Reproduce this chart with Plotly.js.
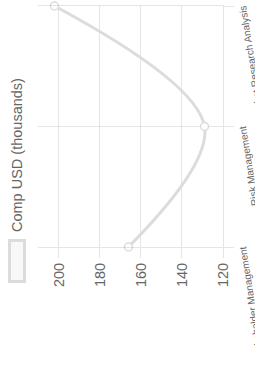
<!DOCTYPE html>
<html>
<head>
<meta charset="utf-8">
<script src="https://cdn.plot.ly/plotly-3.0.1.min.js"></script>
<style>
  html, body { margin:0; padding:0; width:255px; height:371px; overflow:hidden; background:#fff; }
  #wrap { position:absolute; left:0; top:0; width:371px; height:255px;
          transform-origin: 0 0; transform: rotate(-90deg) translateX(-371px); }
  #chart { width:371px; height:255px; }
</style>
</head>
<body>
<div id="wrap"><div id="chart"></div></div>
<script>
const categories = ['Stakeholder Management', 'Risk Management', 'Market Research Analysis'];
const compValues = [166, 129, 202];
const seriesName = 'Comp USD (thousands)';
const yTickVals = [120, 140, 160, 180, 200];

const grid = 'rgba(0,0,0,0.1)';
const stroke = 'rgba(220,220,220,1)';
const font = 'Arial, "Liberation Sans", sans-serif';

const trace = {
  x: categories,
  y: compValues,
  type: 'scatter',
  mode: 'lines+markers',
  name: seriesName,
  line: { color: stroke, width: 3, shape: 'spline', smoothing: 1 },
  marker: { size: 8, color: '#fff', line: { color: stroke, width: 1.5 } },
  cliponaxis: false,
  hoverinfo: 'skip'
};

const layout = {
  width: 371, height: 255,
  margin: { l: 124, r: 6, t: 38, b: 32, pad: 0 },
  paper_bgcolor: '#fff', plot_bgcolor: '#fff',
  showlegend: false,
  font: { family: font, color: '#666' },
  xaxis: {
    type: 'category', range: [0, 2], automargin: false,
    showgrid: true, gridcolor: grid, gridwidth: 1,
    ticks: 'outside', ticklen: 10, tickcolor: grid, tickwidth: 1,
    showline: true, linecolor: grid, linewidth: 1,
    tickangle: -9, tickfont: { size: 10, color: '#666', family: font },
    fixedrange: true
  },
  yaxis: {
    range: [120, 210], automargin: false,
    tickvals: yTickVals, ticktext: yTickVals.map(String),
    showgrid: true, gridcolor: grid, gridwidth: 1, zeroline: false,
    ticks: 'outside', ticklen: 10, tickcolor: grid, tickwidth: 1,
    showline: true, mirror: true, linecolor: grid, linewidth: 1,
    tickfont: { size: 14.5, color: '#666', family: font },
    ticklabelstandoff: 2,
    fixedrange: true
  },
  shapes: [{
    type: 'rect', xref: 'paper', yref: 'paper',
    x0: (89.5 - 124) / 241, x1: (130.5 - 124) / 241,
    y0: (223 - 24.5) / 185, y1: (223 - 9.5) / 185,
    line: { color: stroke, width: 3 }, fillcolor: 'rgba(220,220,220,0.2)'
  }],
  annotations: [{
    text: seriesName, xref: 'paper', yref: 'paper',
    x: (138 - 124) / 241, y: (223 - 17) / 185,
    xanchor: 'left', yanchor: 'middle', showarrow: false,
    borderpad: 0,
    font: { size: 14.5, color: '#666', family: font }
  }]
};

Plotly.newPlot('chart', [trace], layout, { staticPlot: true, displayModeBar: false });
</script>
</body>
</html>
